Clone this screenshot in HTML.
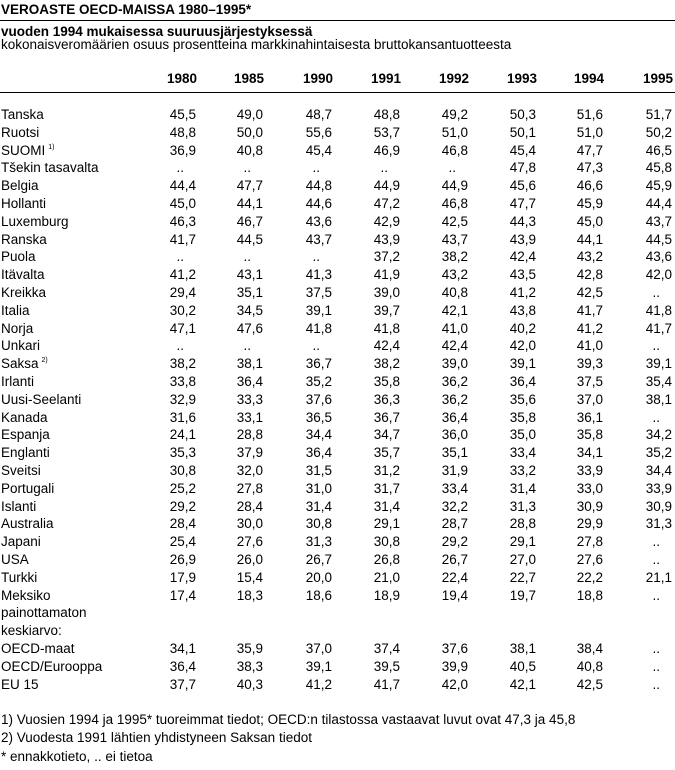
<!DOCTYPE html>
<html><head><meta charset="utf-8">
<style>
body{margin:0;background:#fff;}
#wrap{position:relative;width:675px;height:770px;overflow:hidden;font-family:"Liberation Sans",Arial,sans-serif;color:#000;font-size:13.5px;}
.t{position:absolute;white-space:nowrap;line-height:14px;}
.b{font-weight:bold;}
.hr{position:absolute;left:0;width:675px;height:1px;background:#000;}
.r{text-align:right;}
.sup{font-size:7px;position:relative;top:-6px;margin-left:3px;}
</style></head>
<body>
<div id="wrap">
<div class="t b" style="left:1px;top:3px;font-size:13.5px;">VEROASTE OECD-MAISSA 1980–1995*</div>
<div class="hr" style="top:20px;"></div>
<div class="t b" style="left:1px;top:25px;">vuoden 1994 mukaisessa suuruusjärjestyksessä</div>
<div class="t" style="left:1px;top:38px;">kokonaisveromäärien osuus prosentteina markkinahintaisesta bruttokansantuotteesta</div>
<div class="hr" style="top:92px;"></div>
<div class="t" style="left:1px;top:713px;">1) Vuosien 1994 ja 1995* tuoreimmat tiedot; OECD:n tilastossa vastaavat luvut ovat 47,3 ja 45,8</div>
<div class="t" style="left:1px;top:731px;">2) Vuodesta 1991 lähtien yhdistyneen Saksan tiedot</div>
<div class="t" style="left:1px;top:750px;">* ennakkotieto, .. ei tietoa</div>
</div>
<script>
const years=["1980","1985","1990","1991","1992","1993","1994","1995"];
const countries=["Tanska","Ruotsi","SUOMI","Tšekin tasavalta","Belgia","Hollanti","Luxemburg","Ranska","Puola","Itävalta","Kreikka","Italia","Norja","Unkari","Saksa","Irlanti","Uusi-Seelanti","Kanada","Espanja","Englanti","Sveitsi","Portugali","Islanti","Australia","Japani","USA","Turkki","Meksiko","painottamaton","keskiarvo:","OECD-maat","OECD/Eurooppa","EU 15"];
const sups={"SUOMI":"1)","Saksa":"2)"};
const values=[
["45,5","49,0","48,7","48,8","49,2","50,3","51,6","51,7"],
["48,8","50,0","55,6","53,7","51,0","50,1","51,0","50,2"],
["36,9","40,8","45,4","46,9","46,8","45,4","47,7","46,5"],
["..","..","..","..","..","47,8","47,3","45,8"],
["44,4","47,7","44,8","44,9","44,9","45,6","46,6","45,9"],
["45,0","44,1","44,6","47,2","46,8","47,7","45,9","44,4"],
["46,3","46,7","43,6","42,9","42,5","44,3","45,0","43,7"],
["41,7","44,5","43,7","43,9","43,7","43,9","44,1","44,5"],
["..","..","..","37,2","38,2","42,4","43,2","43,6"],
["41,2","43,1","41,3","41,9","43,2","43,5","42,8","42,0"],
["29,4","35,1","37,5","39,0","40,8","41,2","42,5",".."],
["30,2","34,5","39,1","39,7","42,1","43,8","41,7","41,8"],
["47,1","47,6","41,8","41,8","41,0","40,2","41,2","41,7"],
["..","..","..","42,4","42,4","42,0","41,0",".."],
["38,2","38,1","36,7","38,2","39,0","39,1","39,3","39,1"],
["33,8","36,4","35,2","35,8","36,2","36,4","37,5","35,4"],
["32,9","33,3","37,6","36,3","36,2","35,6","37,0","38,1"],
["31,6","33,1","36,5","36,7","36,4","35,8","36,1",".."],
["24,1","28,8","34,4","34,7","36,0","35,0","35,8","34,2"],
["35,3","37,9","36,4","35,7","35,1","33,4","34,1","35,2"],
["30,8","32,0","31,5","31,2","31,9","33,2","33,9","34,4"],
["25,2","27,8","31,0","31,7","33,4","31,4","33,0","33,9"],
["29,2","28,4","31,4","31,4","32,2","31,3","30,9","30,9"],
["28,4","30,0","30,8","29,1","28,7","28,8","29,9","31,3"],
["25,4","27,6","31,3","30,8","29,2","29,1","27,8",".."],
["26,9","26,0","26,7","26,8","26,7","27,0","27,6",".."],
["17,9","15,4","20,0","21,0","22,4","22,7","22,2","21,1"],
["17,4","18,3","18,6","18,9","19,4","19,7","18,8",".."],
null,null,
["34,1","35,9","37,0","37,4","37,6","38,1","38,4",".."],
["36,4","38,3","39,1","39,5","39,9","40,5","40,8",".."],
["37,7","40,3","41,2","41,7","42,0","42,1","42,5",".."]
];
const colRight=[196,263,332,400,468,536,603,672];
const wrap=document.getElementById('wrap');
const rowY=i=>108+i*17.8;
years.forEach((y,j)=>{
  const d=document.createElement('div');
  d.className='t b r';
  d.style.left=(colRight[j]+1-60)+'px';d.style.width='60px';d.style.top='72px';
  d.textContent=y;
  
  
  wrap.appendChild(d);
});
countries.forEach((c,i)=>{
  const l=document.createElement('div');
  l.className='t';
  l.style.left='1px';l.style.top=rowY(i)+'px';
  l.textContent=c;
  if(sups[c]){const s=document.createElement('span');s.className='sup';s.textContent=sups[c];l.appendChild(s);}
  
  
  wrap.appendChild(l);
  const row=values[i];
  if(!row)return;
  row.forEach((v,j)=>{
    const d=document.createElement('div');
    d.className='t r';
    const rr=v===".."?colRight[j]-12:colRight[j];
    d.style.left=(rr-50)+'px';d.style.width='50px';d.style.top=rowY(i)+'px';
    d.textContent=v;
    
    
    wrap.appendChild(d);
  });
});
</script>
</body></html>
